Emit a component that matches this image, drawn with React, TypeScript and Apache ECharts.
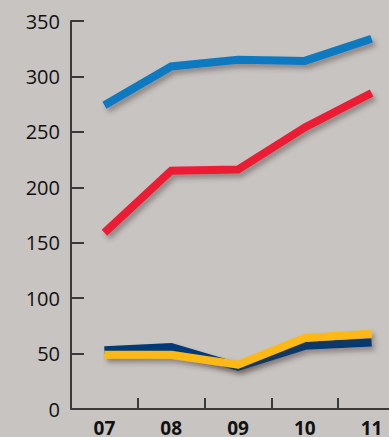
import React, { useEffect, useRef } from "react";
import * as echarts from "echarts";

// Years along the bottom axis
const years = ["07", "08", "09", "10", "11"];

// Series values per year
const blueSeries = [274, 309, 315, 314, 334];
const redSeries = [159, 215, 216, 254, 285];
const navySeries = [53, 56, 38, 57, 60];
const yellowSeries = [49, 49, 40, 64, 68];

// Value axis ticks
const yMin = 0;
const yMax = 350;
const yStep = 50;

const BG = "#c8c4c1";
const AXIS = "#3a3a3a";
const FONT = "'Open Sans', 'Noto Sans', sans-serif";

const lineSeries = (data: number[], color: string) => ({
  type: "line" as const,
  data,
  symbol: "none",
  smooth: false,
  lineStyle: {
    color,
    width: 8,
    cap: "butt",
    join: "miter",
    shadowColor: "rgba(60,50,45,0.4)",
    shadowBlur: 5,
    shadowOffsetX: 3,
    shadowOffsetY: 4,
  },
  emphasis: { disabled: true },
});

export default function App() {
  const ref = useRef<HTMLDivElement>(null);

  useEffect(() => {
    if (!ref.current) return;
    const chart = echarts.init(ref.current, undefined, { renderer: "svg" });
    chart.setOption({
      animation: false,
      backgroundColor: BG,
      // the category axis runs past the right edge of the visible frame
      grid: { left: 71, top: 21, width: 334, height: 389 },
      xAxis: {
        type: "category",
        data: years,
        boundaryGap: true,
        axisLine: { show: true, lineStyle: { color: AXIS, width: 2 } },
        axisTick: {
          show: true,
          inside: true,
          length: 11,
          interval: 0,
          lineStyle: { color: AXIS, width: 2 },
        },
        axisLabel: {
          color: "#111",
          fontFamily: FONT,
          fontWeight: "bold",
          fontSize: 19,
          margin: 9,
          interval: 0,
        },
      },
      yAxis: {
        type: "value",
        min: yMin,
        max: yMax,
        interval: yStep,
        splitLine: { show: false },
        axisLine: { show: true, lineStyle: { color: AXIS, width: 2 } },
        axisTick: {
          show: true,
          inside: true,
          length: 13,
          lineStyle: { color: AXIS, width: 2 },
        },
        axisLabel: {
          color: "#111",
          fontFamily: FONT,
          fontSize: 20,
          margin: 11,
        },
      },
      series: [
        lineSeries(navySeries, "#003b78"),
        lineSeries(yellowSeries, "#fcb913"),
        lineSeries(redSeries, "#ec1c34"),
        lineSeries(blueSeries, "#0a79c0"),
      ],
    });
    return () => chart.dispose();
  }, []);

  return (
    <div
      style={{
        position: "fixed",
        left: 0,
        top: 0,
        width: 389,
        height: 437,
        overflow: "hidden",
        background: BG,
      }}
    >
      <div ref={ref} style={{ width: 410, height: 437 }} />
    </div>
  );
}
